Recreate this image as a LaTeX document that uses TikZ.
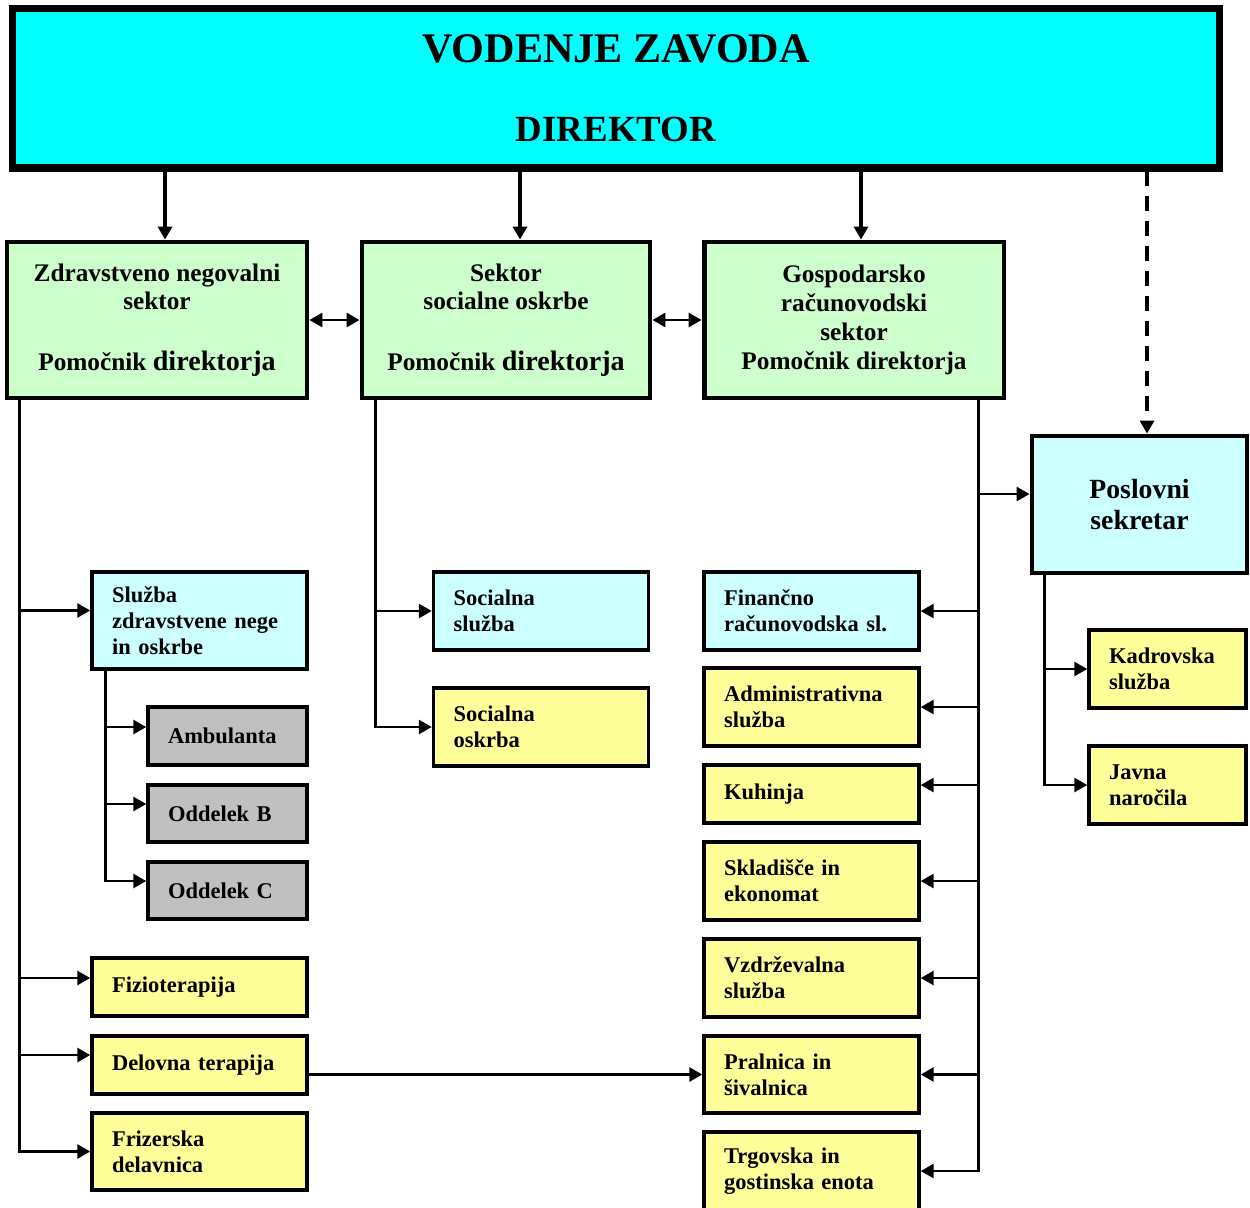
\documentclass[tikz,border=0pt]{standalone}
\usepackage{fontspec}
\setmainfont{Liberation Serif}
\usetikzlibrary{positioning,arrows.meta}
\definecolor{headcyan}{HTML}{00FFFF}
\definecolor{sectgreen}{HTML}{CCFFCC}
\definecolor{lightcyan}{HTML}{CCFFFF}
\definecolor{unityellow}{HTML}{FFFF99}
\definecolor{unitgray}{HTML}{C0C0C0}

\begin{document}
\begin{tikzpicture}[x=0.02cm,y=-0.02cm,
    head/.style={rectangle,draw,line width=4pt,fill=headcyan,minimum width=24.16cm,minimum height=3.2cm,align=center,font=\fontsize{24}{45}\selectfont\bfseries},
    sector/.style={rectangle,draw,line width=2.8pt,fill=sectgreen,minimum height=3.12cm,align=center,font=\fontsize{14.4}{16.4}\selectfont\bfseries},
    unit/.style={rectangle,draw,line width=2pt,inner xsep=0.4cm,inner ysep=0pt,text width=#1,align=left,font=\fontsize{12.8}{14.7}\selectfont\bfseries},
    unit/.default=3.5cm,
    arrow/.style={-{Triangle[length=0.26cm,width=0.28cm]},line width=1.6pt},
    both/.style={{Triangle[length=0.26cm,width=0.28cm]}-{Triangle[length=0.26cm,width=0.28cm]},line width=1.6pt}
]
    \clip (0,0) rectangle (1250,1207);

    % Vodstvo
    \node[head] (vodenje) at (616,88) {VODENJE ZAVODA\\{\fontsize{21}{45}\selectfont DIREKTOR}};

    % Sektorji
    \node[sector,minimum width=6cm] (zns) at (157,320) {Zdravstveno negovalni\\sektor\\[18pt]Pomočnik {\fontsize{16}{18}\selectfont direktorja}};
    \node[sector,minimum width=5.76cm] (sso) at (506,320) {Sektor\\socialne oskrbe\\[18pt]Pomočnik {\fontsize{16}{18}\selectfont direktorja}};
    \node[sector,minimum width=6cm] (grs) at (854,320) {Gospodarsko\\računovodski\\sektor\\Pomočnik direktorja};
    \node[rectangle,draw,line width=2.8pt,fill=lightcyan,minimum width=4.3cm,minimum height=2.74cm,align=center,font=\fontsize{15.8}{18}\selectfont\bfseries] (posl) at (1139.5,504.5) {Poslovni\\sekretar};

    % Zdravstveno negovalni sektor
    \node[unit,fill=lightcyan,minimum height=1.94cm] (sluzba) at (199.5,620.5) {Služba\\zdravstvene nege\\in oskrbe};
    \node[unit=2.38cm,fill=unitgray,minimum height=1.16cm] (amb) at (227.5,736) {Ambulanta};
    \node[unit=2.38cm,fill=unitgray,minimum height=1.14cm] (oddb) at (227.5,813.5) {Oddelek B};
    \node[unit=2.38cm,fill=unitgray,minimum height=1.14cm] (oddc) at (227.5,890.5) {Oddelek C};
    \node[unit,fill=unityellow,minimum height=1.16cm] (fizio) at (199.5,987) {Fizioterapija};
    \node[unit,fill=unityellow,minimum height=1.16cm] (delo) at (199.5,1065) {Delovna terapija};
    \node[unit,fill=unityellow,minimum height=1.54cm] (friz) at (199.5,1151.5) {Frizerska\\delavnica};

    % Sektor socialne oskrbe
    \node[unit,fill=lightcyan,minimum height=1.56cm] (socsl) at (541,611) {Socialna\\služba};
    \node[unit,fill=unityellow,minimum height=1.56cm] (socok) at (541,727) {Socialna\\oskrba};

    % Gospodarsko racunovodski sektor
    \node[unit,fill=lightcyan,minimum height=1.56cm] (fin) at (811.5,611) {Finančno\\računovodska sl.};
    \node[unit,fill=unityellow,minimum height=1.56cm] (adm) at (811.5,707) {Administrativna\\služba};
    \node[unit,fill=unityellow,minimum height=1.16cm] (kuh) at (811.5,794) {Kuhinja};
    \node[unit,fill=unityellow,minimum height=1.56cm] (skl) at (811.5,881) {Skladišče in\\ekonomat};
    \node[unit,fill=unityellow,minimum height=1.56cm] (vzd) at (811.5,978) {Vzdrževalna\\služba};
    \node[unit,fill=unityellow,minimum height=1.54cm] (pral) at (811.5,1074.5) {Pralnica in\\šivalnica};
    \node[unit,fill=unityellow,minimum height=1.56cm] (trg) at (811.5,1171) {Trgovska in\\gostinska enota};

    % Poslovni sekretar
    \node[unit=2.34cm,fill=unityellow,minimum height=1.56cm] (kadr) at (1167.5,669) {Kadrovska\\služba};
    \node[unit=2.34cm,fill=unityellow,minimum height=1.56cm] (javna) at (1167.5,785) {Javna\\naročila};

    % Povezave od direktorja
    \coordinate (a1) at ([xshift=0.16cm]zns.north);
    \coordinate (a2) at ([xshift=0.28cm]sso.north);
    \coordinate (a3) at ([xshift=0.14cm]grs.north);
    \coordinate (a4) at ([xshift=0.15cm]posl.north);
    \draw[arrow,line width=2.2pt] (a1 |- vodenje.south) -- (a1);
    \draw[arrow,line width=2.2pt] (a2 |- vodenje.south) -- (a2);
    \draw[arrow,line width=2.2pt] (a3 |- vodenje.south) -- (a3);
    \draw[arrow,line width=2.2pt,dash pattern=on 0.3cm off 0.2cm] (a4 |- vodenje.south) -- (a4);

    \draw[both] (zns.east) -- (sso.west);
    \draw[both] (sso.east) -- (grs.west);

    % Drevesa
    \coordinate (zt) at ([xshift=0.3cm]zns.south west);
    \coordinate (st) at ([xshift=0.3cm]sluzba.south west);
    \coordinate (mt) at ([xshift=0.32cm]sso.south west);
    \coordinate (gt) at ([xshift=-0.56cm]grs.south east);
    \coordinate (pt) at ([xshift=0.3cm]posl.south west);

    \draw[arrow] (zt) |- ([yshift=0.2cm]sluzba.west);
    \draw[arrow] (zt) |- ([yshift=0.18cm]fizio.west);
    \draw[arrow] (zt) |- ([yshift=0.2cm]delo.west);
    \draw[arrow] (zt) |- (friz.west);

    \draw[arrow] (st) |- ([yshift=0.18cm]amb.west);
    \draw[arrow] (st) |- ([yshift=0.19cm]oddb.west);
    \draw[arrow] (st) |- ([yshift=0.19cm]oddc.west);

    \draw[arrow] (mt) |- (socsl.west);
    \draw[arrow] (mt) |- (socok.west);

    \draw[arrow] (gt) |- ([yshift=0.21cm]posl.west);
    \draw[arrow] (gt) |- (fin.east);
    \draw[arrow] (gt) |- (adm.east);
    \draw[arrow] (gt) |- ([yshift=0.18cm]kuh.east);
    \draw[arrow] (gt) |- (skl.east);
    \draw[arrow] (gt) |- (vzd.east);
    \draw[arrow] (gt) |- (pral.east);
    \draw[arrow] (gt) |- (trg.east);

    \draw[arrow] (pt) |- (kadr.west);
    \draw[arrow] (pt) |- (javna.west);

    \draw[arrow] (delo.east |- pral.west) -- (pral.west);
\end{tikzpicture}
\end{document}
